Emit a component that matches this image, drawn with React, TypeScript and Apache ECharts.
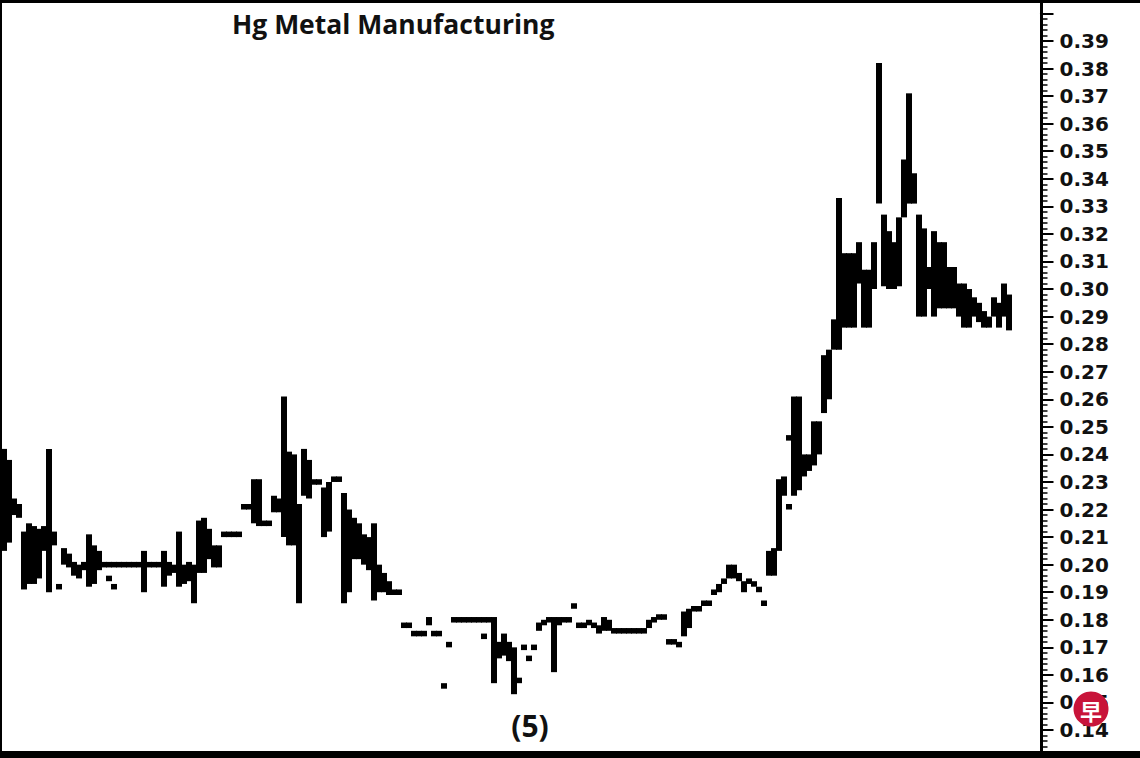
import React, { useEffect, useRef } from "react";
import * as echarts from "echarts";

// Daily price ranges (low / high), one entry per trading day
const lows: number[] = [
  0.205, 0.208, 0.218, 0.217, 0.191, 0.193, 0.193, 0.195, 0.205, 0.190,
  0.207, 0.191, 0.200, 0.199, 0.196, 0.195, 0.198, 0.192, 0.193, 0.198,
  0.199, 0.199, 0.199, 0.199, 0.199, 0.199, 0.199, 0.199, 0.190, 0.199,
  0.199, 0.199, 0.192, 0.196, 0.197, 0.192, 0.193, 0.194, 0.186, 0.197,
  0.197, 0.202, 0.199, 0.199, 0.210, 0.210, 0.210, 0.210, 0.220, 0.220,
  0.215, 0.214, 0.214, 0.214, 0.219, 0.219, 0.210, 0.207, 0.207, 0.186,
  0.225, 0.224, 0.229, 0.229, 0.210, 0.212, 0.230, 0.230, 0.186, 0.190,
  0.202, 0.202, 0.200, 0.198, 0.187, 0.190, 0.190, 0.189, 0.189, 0.189,
  0.177, 0.177, 0.174, 0.174, 0.174, 0.178, 0.174, 0.174, 0.155, 0.170,
  0.179, 0.179, 0.179, 0.179, 0.179, 0.179, 0.179, 0.179, 0.157, 0.166,
  0.167, 0.165, 0.153, 0.157, 0.169, 0.165, 0.169, 0.176, 0.178, 0.179,
  0.161, 0.178, 0.179, 0.179, 0.184, 0.177, 0.177, 0.178, 0.177, 0.175,
  0.176, 0.176, 0.175, 0.175, 0.175, 0.175, 0.175, 0.175, 0.175, 0.177,
  0.179, 0.180, 0.180, 0.171, 0.171, 0.170, 0.174, 0.177, 0.183, 0.183,
  0.185, 0.185, 0.189, 0.190, 0.193, 0.195, 0.195, 0.194, 0.190, 0.193,
  0.192, 0.190, 0.185, 0.196, 0.196, 0.205, 0.225, 0.220, 0.225, 0.227,
  0.232, 0.234, 0.236, 0.240, 0.255, 0.260, 0.278, 0.278, 0.286, 0.286,
  0.286, 0.302, 0.286, 0.286, 0.300, 0.331, 0.301, 0.300, 0.300, 0.301,
  0.326, 0.331, 0.331, 0.290, 0.290, 0.300, 0.290, 0.293, 0.293, 0.293,
  0.293, 0.290, 0.286, 0.286, 0.290, 0.288, 0.286, 0.286, 0.290, 0.286,
  0.290, 0.285,
];

const highs: number[] = [
  0.242, 0.238, 0.224, 0.222, 0.212, 0.215, 0.214, 0.213, 0.214, 0.242,
  0.212, 0.193, 0.206, 0.204, 0.201, 0.200, 0.201, 0.211, 0.207, 0.205,
  0.201, 0.201, 0.201, 0.201, 0.201, 0.201, 0.201, 0.201, 0.205, 0.201,
  0.201, 0.201, 0.205, 0.201, 0.200, 0.212, 0.200, 0.201, 0.200, 0.216,
  0.217, 0.213, 0.207, 0.207, 0.212, 0.212, 0.212, 0.212, 0.222, 0.222,
  0.231, 0.231, 0.216, 0.216, 0.225, 0.224, 0.261, 0.241, 0.240, 0.222,
  0.242, 0.238, 0.231, 0.231, 0.228, 0.230, 0.232, 0.232, 0.226, 0.220,
  0.217, 0.215, 0.211, 0.210, 0.215, 0.200, 0.197, 0.194, 0.191, 0.191,
  0.179, 0.179, 0.176, 0.176, 0.176, 0.181, 0.176, 0.176, 0.157, 0.172,
  0.181, 0.181, 0.181, 0.181, 0.181, 0.181, 0.181, 0.181, 0.181, 0.172,
  0.175, 0.172, 0.170, 0.159, 0.171, 0.167, 0.171, 0.179, 0.180, 0.181,
  0.181, 0.181, 0.181, 0.181, 0.186, 0.179, 0.179, 0.180, 0.179, 0.178,
  0.181, 0.180, 0.177, 0.177, 0.177, 0.177, 0.177, 0.177, 0.177, 0.180,
  0.181, 0.182, 0.182, 0.173, 0.173, 0.172, 0.183, 0.184, 0.185, 0.185,
  0.187, 0.187, 0.191, 0.193, 0.195, 0.200, 0.200, 0.197, 0.194, 0.195,
  0.194, 0.192, 0.187, 0.205, 0.206, 0.231, 0.232, 0.222, 0.261, 0.261,
  0.240, 0.240, 0.252, 0.252, 0.276, 0.278, 0.289, 0.333, 0.313, 0.313,
  0.313, 0.317, 0.307, 0.307, 0.317, 0.382, 0.327, 0.321, 0.317, 0.326,
  0.347, 0.371, 0.342, 0.327, 0.322, 0.308, 0.321, 0.317, 0.317, 0.308,
  0.308, 0.302, 0.302, 0.300, 0.297, 0.295, 0.292, 0.290, 0.297, 0.295,
  0.302, 0.298,
];

// Isolated open/close ticks (day index, price)
const tickDays: number[] = [21, 22, 96, 157];
const tickPrices: number[] = [0.195, 0.192, 0.174, 0.246];

// Empty days to the right of the last bar, before the price scale
const paddingDays = 6;

const yMin = 0.13;
const yMax = 0.40;
const yStep = 0.01;

const title = "Hg Metal Manufacturing";
const waveLabel = "(5)";

const FONT = "'Open Sans', 'DejaVu Sans', sans-serif";

export default function App() {
  const ref = useRef<HTMLDivElement>(null);

  useEffect(() => {
    if (!ref.current) return;
    const chart = echarts.init(ref.current, null, { renderer: "svg" });

    const total = lows.length + paddingDays;
    const categories = Array.from({ length: total }, (_, k) => "D" + (k + 1));
    const barData = lows.map((lo, k) => [k, lo, highs[k]]);
    const tickData = tickDays.map((d, k) => [d, tickPrices[k] - 0.001, tickPrices[k] + 0.001]);

    const renderBar = (params: any, api: any) => {
      const i = api.value(0);
      const lo = api.value(1);
      const hi = api.value(2);
      const top = api.coord([i, hi]);
      const bot = api.coord([i, lo]);
      const w = api.size([1, 0])[0] + 1;
      let y = top[1];
      let h = bot[1] - top[1];
      if (h < 4) {
        y = (top[1] + bot[1]) / 2 - 2;
        h = 4;
      }
      return {
        type: "rect",
        shape: { x: top[0] - w / 2, y, width: w, height: h },
        style: { fill: "#000" },
      };
    };

    chart.setOption({
      animation: false,
      backgroundColor: "#ffffff",
      title: {
        text: title,
        left: 227,
        top: 5,
        textStyle: { fontFamily: FONT, fontSize: 26.5, fontWeight: "bold", color: "#111" },
      },
      grid: { left: 1.5, right: 98.5, top: 13.4, bottom: 0.4, containLabel: false },
      xAxis: {
        type: "category",
        data: categories,
        boundaryGap: true,
        show: false,
      },
      yAxis: {
        type: "value",
        position: "right",
        min: yMin,
        max: yMax,
        interval: yStep,
        splitLine: { show: false },
        axisLine: { show: true, lineStyle: { color: "#000", width: 3 } },
        axisTick: { show: true, length: 12, lineStyle: { color: "#000", width: 2 } },
        minorTick: { show: true, splitNumber: 5, length: 6, lineStyle: { color: "#000", width: 1.5 } },
        axisLabel: {
          margin: 18,
          fontFamily: "'DejaVu Sans', sans-serif",
          fontSize: 20,
          fontWeight: "bold",
          color: "#111",
          formatter: (v: number) => (v < yMin + 0.005 || v > yMax - 0.005 ? "" : v.toFixed(2)),
        },
      },
      series: [
        {
          type: "custom",
          name: "Price range",
          renderItem: renderBar,
          encode: { x: 0, y: [1, 2] },
          data: barData,
        },
        {
          type: "custom",
          name: "Ticks",
          renderItem: renderBar,
          encode: { x: 0, y: [1, 2] },
          data: tickData,
        },
      ],
      graphic: [
        { type: "rect", z: 100, shape: { x: 0, y: 0, width: 1140, height: 3 }, style: { fill: "#000" } },
        { type: "rect", z: 100, shape: { x: 0, y: 0, width: 2, height: 758 }, style: { fill: "#000" } },
        { type: "rect", z: 100, shape: { x: 0, y: 751, width: 1140, height: 7 }, style: { fill: "#000" } },
        { type: "line", z: 100, shape: { x1: 1041.5, y1: 0, x2: 1041.5, y2: 15 }, style: { stroke: "#000", lineWidth: 3 } },
        {
          type: "text",
          z: 100,
          x: 530,
          y: 725,
          style: {
            text: waveLabel,
            fontFamily: FONT,
            fontSize: 30,
            fontWeight: "bold",
            fill: "#111",
            textAlign: "center",
            textVerticalAlign: "middle",
          },
        },
        {
          type: "circle",
          z: 110,
          shape: { cx: 1091, cy: 709, r: 17.5 },
          style: { fill: "#c8143a" },
        },
        {
          type: "text",
          z: 111,
          x: 1091,
          y: 710,
          style: {
            text: "早",
            fontFamily: "'Noto Sans CJK SC', sans-serif",
            fontSize: 22,
            fontWeight: "bold",
            fill: "#ffffff",
            textAlign: "center",
            textVerticalAlign: "middle",
          },
        },
      ],
    });

    return () => chart.dispose();
  }, []);

  return (
    <div
      ref={ref}
      style={{ position: "absolute", left: 0, top: 0, width: 1140, height: 758, background: "#fff" }}
    />
  );
}
